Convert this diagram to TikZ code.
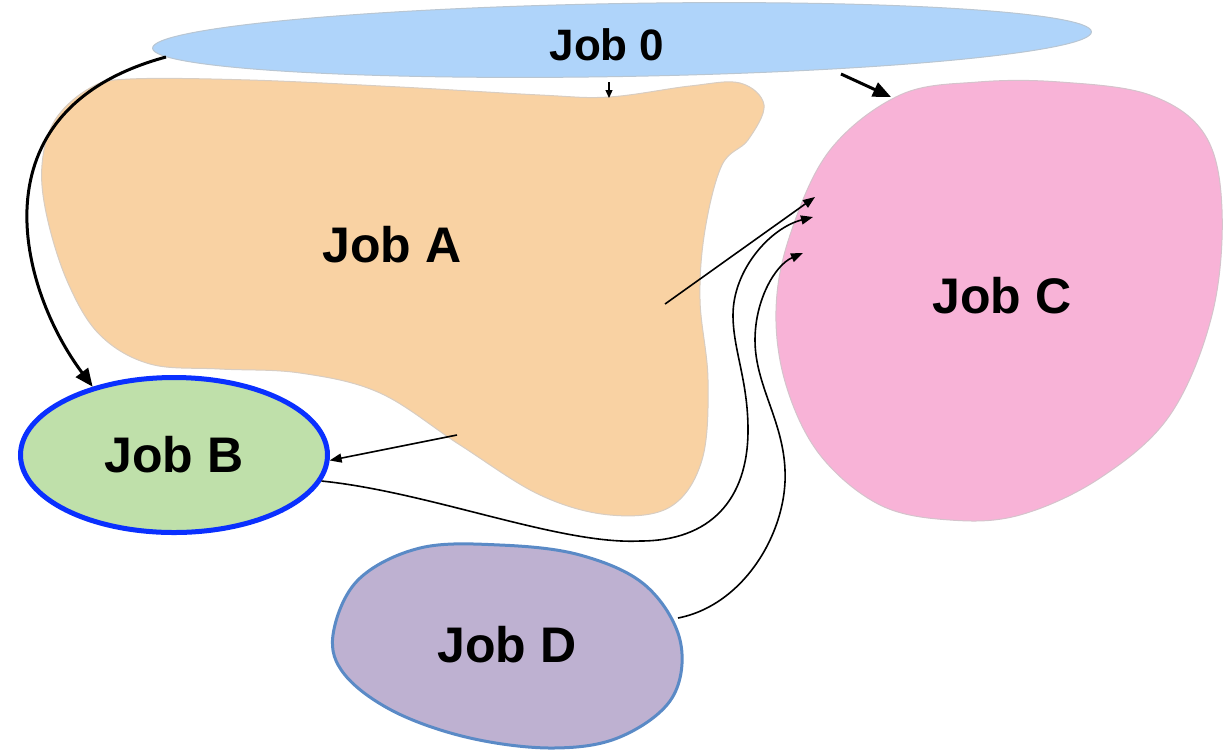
\documentclass[tikz,border=0pt]{standalone}
\usepackage{fontspec}
\setmainfont{Liberation Sans}
\usetikzlibrary{arrows.meta,shapes.geometric}
\definecolor{skyfill}{HTML}{AFD4FA}
\definecolor{skyline}{HTML}{B9C6D2}
\definecolor{sandfill}{HTML}{F9D2A3}
\definecolor{sandline}{HTML}{D8CDC2}
\definecolor{leaffill}{HTML}{BFE0AA}
\definecolor{leafline}{HTML}{0A30FF}
\definecolor{rosefill}{HTML}{F8B3D7}
\definecolor{roseline}{HTML}{D5C3CC}
\definecolor{plumfill}{HTML}{BEB1D1}
\definecolor{plumline}{HTML}{5A8AC6}
\newcommand{\jobsize}{\fontsize{25}{30}\selectfont\bfseries}
\tikzset{
 every node/.append style={text=black,align=center},
 jobtext/.style={font=\jobsize,inner sep=0pt},
 blob/.style={line width=.5pt},
 heavy/.style={-{Triangle[length=9pt,width=7.5pt]},draw=black,line width=1.5pt},
 link/.style={-{Triangle[length=6pt,width=4.5pt]},draw=black,line width=.8pt},
 nudge/.style={-{Triangle[length=4pt,width=3.5pt]},draw=black,line width=.6pt},
}

\begin{document}
\begin{tikzpicture}[x=.5pt,y=-.5pt]

\useasboundingbox (0,0) rectangle (1224,751);
% free-form job areas
\draw[blob,draw=sandline,fill=sandfill] plot[smooth cycle,tension=.6] coordinates {(130,79) (250,80) (400,87) (540,95) (609,97) (690,86) (740,83) (764,105) (748,140) (722,165) (705,230) (700,300) (708,380) (702,460) (670,507) (610,515) (540,495) (460,445) (380,393) (300,373) (220,369) (150,364) (100,335) (68,283) (47,217) (42,165) (55,120) (90,88)};
\draw[blob,draw=roseline,fill=rosefill] plot[smooth cycle,tension=.6] coordinates {(900,95) (978,82) (1060,82) (1150,95) (1205,135) (1222,210) (1212,315) (1170,415) (1100,478) (1020,515) (950,520) (880,505) (820,455) (786,385) (776,310) (790,235) (830,150)};
\draw[line width=1.5pt,draw=plumline,fill=plumfill] plot[smooth cycle,tension=.6] coordinates {(333,635) (358,580) (420,548) (500,545) (580,555) (645,585) (680,640) (672,698) (620,737) (553,748) (470,738) (395,712) (345,675)};
\node[ellipse,draw=skyline,fill=skyfill,line width=.5pt,minimum width=469.5pt,minimum height=36.5pt,inner sep=0pt,rotate=1] (job0) at (622,40) {};
\node[ellipse,draw=leafline,fill=leaffill,line width=2.5pt,minimum width=153.5pt,minimum height=77.5pt,jobtext] (jobB) at (174,455) {Job B};

\node[jobtext,font=\fontsize{22}{26}\selectfont\bfseries] (job0label) at (607,45) {Job 0};
\node[jobtext] (jobA) at (392,245) {Job A};
\node[jobtext] (jobC) at (1002,296) {Job C};
\node[jobtext] (jobD) at (507,645) {Job D};

\coordinate (j0-b) at (166,57);
\coordinate (j0-a) at (609,82);
\coordinate (j0-c) at (841,74);
\coordinate (a-top) at (609,98);
\coordinate (c-top) at (891,97);
\coordinate (a-c) at (665,304);
\coordinate (a-b) at (457,435);
\coordinate (c-in1) at (815,197);
\coordinate (c-in2) at (813,217);
\coordinate (c-in3) at (803,253);
\coordinate (d-c) at (678,618);

\draw[heavy] (j0-b) .. controls (-30,110) and (20,290) .. (jobB.140);
\draw[nudge] (j0-a) -- (a-top);
\draw[heavy] (j0-c) -- (c-top);
\draw[link] (a-c) -- (c-in1);
\draw[link] (a-b) -- (jobB.-2);
\draw[link] (jobB.-10) .. controls (430,492) and (560,545) .. (640,541) .. controls (710,541) and (748,500) .. (748,430) .. controls (748,380) and (733,350) .. (733,315) .. controls (733,270) and (770,228) .. (c-in2);
\draw[link] (d-c) .. controls (745,605) and (788,530) .. (785,470) .. controls (783,420) and (755,385) .. (755,340) .. controls (755,300) and (775,265) .. (c-in3);

\end{tikzpicture}
\end{document}
